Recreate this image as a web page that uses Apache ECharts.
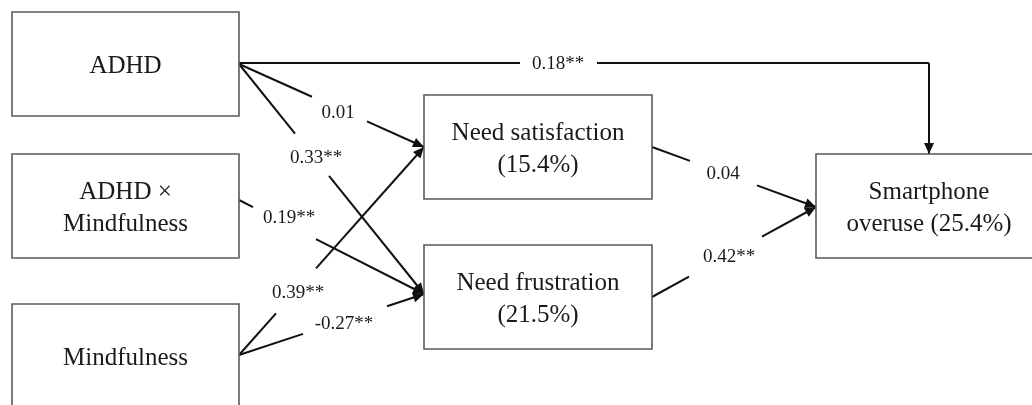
<!DOCTYPE html>
<html>
<head>
<meta charset="utf-8">
<script src="https://cdn.jsdelivr.net/npm/echarts@6/dist/echarts.min.js"></script>
<style>
html,body{margin:0;padding:0;background:#fff;}
#chart{width:1032px;height:405px;}
</style>
</head>
<body>
<div id="chart"></div>
<script>
// ---- data ----
const nodeNames = ['ADHD', 'ADHD \u00d7\nMindfulness', 'Mindfulness', 'Need satisfaction\n(15.4%)', 'Need frustration\n(21.5%)', 'Smartphone\noveruse (25.4%)'];
const pathFrom = [0, 0, 0, 1, 2, 2, 3, 4];
const pathTo = [5, 3, 4, 4, 3, 4, 5, 5];
const coefficients = ['0.18**', '0.01', '0.33**', '0.19**', '0.39**', '-0.27**', '0.04', '0.42**'];

// ---- layout (diagram coordinates, pixels on the 1032x405 canvas) ----
const boxLayout = [
  [12, 12, 227, 104],
  [12, 154, 227, 104],
  [12, 304, 227, 104],
  [424, 95, 228, 104],
  [424, 245, 228, 104],
  [816, 154, 226, 104]
];
const edgeLayout = [
  { pts: [[239, 63], [929, 63], [929, 154]], label: [558, 63], gap: [520, 597] },
  { pts: [[239, 64], [424, 147]], label: [338, 112], gap: [312, 367] },
  { pts: [[239, 64], [424, 294]], label: [316, 157], gap: [295, 329] },
  { pts: [[239, 200], [424, 294]], label: [289, 217], gap: [253, 316] },
  { pts: [[239, 355], [424, 147]], label: [298, 292], gap: [276, 316] },
  { pts: [[239, 355], [424, 294]], label: [344, 323], gap: [303, 387] },
  { pts: [[652, 147], [816, 207]], label: [723, 173], gap: [690, 757] },
  { pts: [[652, 297], [816, 207]], label: [729, 256], gap: [689, 762] }
];

const FONT = '"Liberation Serif", "Times New Roman", serif';
const INK = '#111';

const chart = echarts.init(document.getElementById('chart'), null, { renderer: 'canvas' });

function renderBox(params, api) {
  const i = api.value(0);
  const b = boxLayout[i];
  const p0 = api.coord([b[0], b[1]]);
  const p1 = api.coord([b[0] + b[2], b[1] + b[3]]);
  const x = Math.min(p0[0], p1[0]), y = Math.min(p0[1], p1[1]);
  const w = Math.abs(p1[0] - p0[0]), h = Math.abs(p1[1] - p0[1]);
  return {
    type: 'group',
    children: [
      { type: 'rect', shape: { x: x, y: y, width: w, height: h },
        style: { fill: '#fff', stroke: '#5a5a5a', lineWidth: 1.6 } },
      { type: 'text', x: x + w / 2, y: y + h / 2 + 2,
        style: { text: nodeNames[i], font: '25px ' + FONT, fill: '#1a1a1a',
                 align: 'center', verticalAlign: 'middle', lineHeight: 32 } }
    ]
  };
}

function renderEdge(params, api) {
  const i = api.value(0);
  const e = edgeLayout[i];
  const children = [];
  const g0 = api.coord([e.gap[0], 0])[0], g1 = api.coord([e.gap[1], 0])[0];
  const pts = e.pts.map(p => api.coord(p));
  for (let k = 0; k < pts.length - 1; k++) {
    const a = pts[k], b = pts[k + 1];
    const dx = b[0] - a[0];
    const pieces = [];
    if (Math.abs(dx) > 1 && Math.min(a[0], b[0]) < g0 && Math.max(a[0], b[0]) > g1) {
      const t0 = (g0 - a[0]) / dx, t1 = (g1 - a[0]) / dx;
      const q0 = [a[0] + dx * t0, a[1] + (b[1] - a[1]) * t0];
      const q1 = [a[0] + dx * t1, a[1] + (b[1] - a[1]) * t1];
      pieces.push([a, q0], [q1, b]);
    } else {
      pieces.push([a, b]);
    }
    pieces.forEach(pc => {
      children.push({ type: 'line',
        shape: { x1: pc[0][0], y1: pc[0][1], x2: pc[1][0], y2: pc[1][1] },
        style: { stroke: INK, lineWidth: 2 } });
    });
  }
  // arrowhead
  const tip = pts[pts.length - 1], prev = pts[pts.length - 2];
  const ang = Math.atan2(tip[1] - prev[1], tip[0] - prev[0]);
  const L = 11, W = 5;
  const bx = tip[0] - L * Math.cos(ang), by = tip[1] - L * Math.sin(ang);
  children.push({ type: 'polygon',
    shape: { points: [tip,
      [bx + W * Math.sin(ang), by - W * Math.cos(ang)],
      [bx - W * Math.sin(ang), by + W * Math.cos(ang)]] },
    style: { fill: INK } });
  const lp = api.coord(e.label);
  children.push({ type: 'text', x: lp[0], y: lp[1] + 1.5,
    style: { text: coefficients[i], font: '19px ' + FONT, fill: '#1a1a1a',
             align: 'center', verticalAlign: 'middle' } });
  return { type: 'group', children: children };
}

chart.setOption({
  animation: false,
  backgroundColor: '#fff',
  grid: { left: 0, right: 0, top: 0, bottom: 0 },
  xAxis: { type: 'value', min: 0, max: 1032, show: false },
  yAxis: { type: 'value', min: 0, max: 405, inverse: true, show: false },
  series: [
    { type: 'custom', name: 'paths', clip: false, z: 1,
      data: coefficients.map((c, i) => [i, pathFrom[i], pathTo[i]]),
      renderItem: renderEdge },
    { type: 'custom', name: 'variables', clip: false, z: 2,
      data: nodeNames.map((n, i) => [i]),
      renderItem: renderBox }
  ]
});
</script>
</body>
</html>
